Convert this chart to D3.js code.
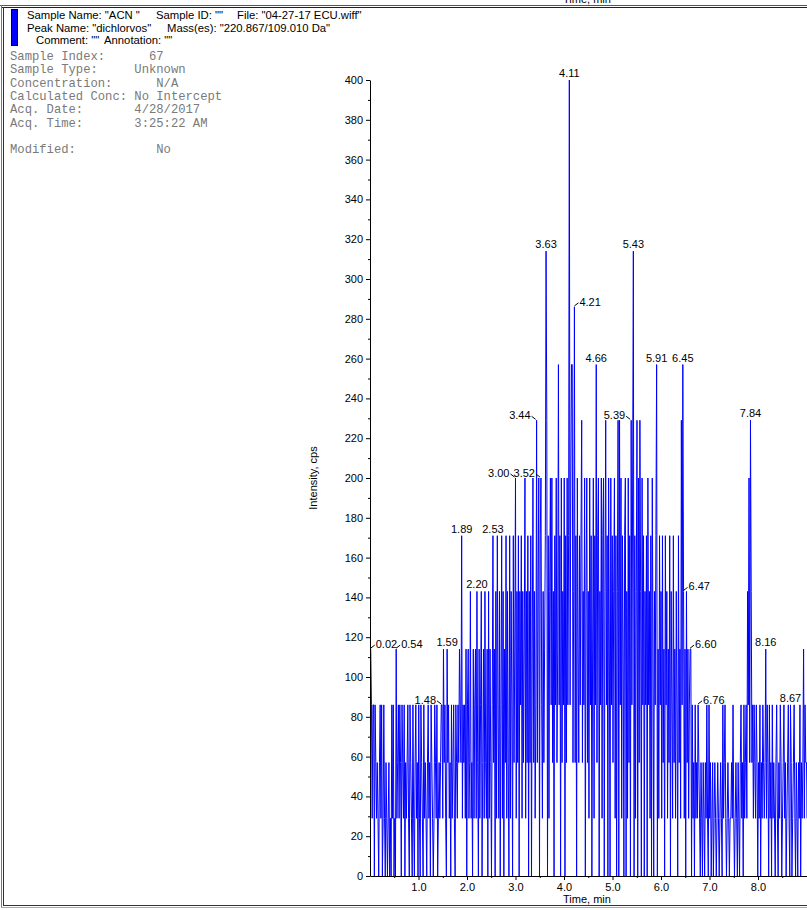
<!DOCTYPE html>
<html><head><meta charset="utf-8">
<script src="https://cdn.jsdelivr.net/npm/d3@7"></script>
<style>
html,body{margin:0;padding:0;background:#fff;overflow:hidden}
svg{display:block}
</style></head><body>
<script>
// ---------------- DATA ----------------
const sampleInterval = 0.015; // min between acquisitions
const intensity = [
114,114,86,29,86,86,0,86,57,29,
57,29,0,57,86,29,86,0,29,86,
29,0,57,29,0,29,57,0,29,0,
86,29,86,0,29,0,114,29,57,86,
29,86,57,0,86,57,29,86,0,57,
29,57,86,29,0,86,57,29,0,86,
29,0,57,86,29,57,0,86,29,0,
86,57,29,0,86,29,57,29,0,57,
86,29,57,0,86,57,29,0,29,86,
57,29,86,0,29,57,29,57,86,86,
29,114,57,86,29,0,114,57,86,29,
57,0,86,29,57,86,29,0,86,57,
29,86,57,114,86,57,171,29,86,57,
86,29,114,0,86,114,29,57,143,29,
57,0,114,29,86,114,29,143,57,0,
114,29,86,143,0,57,114,29,143,57,
29,114,0,143,29,114,57,0,86,171,
57,114,0,143,29,171,86,29,143,0,
86,171,29,143,0,114,57,171,29,143,
57,0,171,29,143,86,0,171,57,114,
200,29,143,57,171,0,143,86,171,29,
143,57,114,200,29,143,57,171,0,143,
57,171,0,114,200,57,143,29,86,229,
57,143,200,0,171,200,86,29,143,57,
114,171,314,229,0,171,29,143,200,86,
200,57,143,0,171,86,200,57,114,257,
86,171,0,200,57,143,86,200,0,171,
57,200,86,171,400,86,200,257,257,57,
143,286,57,171,0,200,114,57,171,86,
171,229,57,143,86,200,0,143,200,57,
143,29,200,86,171,0,114,200,29,171,
86,257,57,171,200,0,143,86,200,29,
171,200,0,143,229,86,171,0,200,114,
0,200,86,171,57,143,200,29,171,0,
143,229,0,229,86,200,29,171,114,0,
171,200,0,143,29,200,57,171,0,229,
86,200,314,0,171,29,143,229,0,200,
57,229,143,0,200,86,171,0,143,86,
171,0,200,86,143,29,171,0,200,114,
0,143,86,171,257,0,114,29,171,86,
143,29,171,57,114,0,171,86,143,29,
114,57,171,0,143,86,29,171,57,114,
29,143,86,0,171,57,114,29,229,86,
257,143,29,114,0,143,57,114,29,86,
114,114,0,86,29,57,0,86,29,57,
29,86,57,29,0,57,29,0,57,29,
0,57,29,86,29,0,86,29,57,0,
29,57,0,29,57,29,0,29,57,29,
0,29,57,29,0,86,29,57,86,29,
0,29,57,29,0,29,29,57,29,86,
29,0,29,57,29,0,57,29,0,57,
86,29,57,0,86,29,57,86,29,143,
86,200,57,229,143,57,86,29,86,57,
29,86,57,0,57,29,86,0,57,29,
86,57,29,57,114,29,86,57,0,86,
29,57,0,86,29,57,29,0,57,86,
29,0,57,29,86,57,0,29,57,86,
29,57,0,29,57,86,29,0,86,57,
0,29,57,86,29,0,57,29,0,57,
29,86,0,57,29,57,114,29,86,57,
57,29,86,0
];

const yTickValues = [0,20,40,60,80,100,120,140,160,180,200,220,240,260,280,300,320,340,360,380,400];
const yMinorTickValues = [10,30,50,70,90,110,130,150,170,190,210,230,250,270,290,310,330,350,370,390];
const xTickValues = [1,2,3,4,5,6,7,8];
const xTickLabels = ["1.0","2.0","3.0","4.0","5.0","6.0","7.0","8.0"];
const xMinorTickValues = [0.5,1.5,2.5,3.5,4.5,5.5,6.5,7.5,8.5];

const peakLabels = ["0.02","0.54","1.48","1.59","1.89","2.20","2.53","3.00","3.44","3.52","3.63",
  "4.11","4.21","4.66","5.39","5.43","5.91","6.45","6.47","6.60","6.76","7.84","8.16","8.67"];

const headerLines = [
  ['Sample Name: "ACN "', 'Sample ID: ""', 'File: "04-27-17 ECU.wiff"'],
  ['Peak Name: "dichlorvos"', 'Mass(es): "220.867/109.010 Da"'],
  ['Comment: ""', 'Annotation: ""']
];
const infoLines = [
  "Sample Index:      67",
  "Sample Type:     Unknown",
  "Concentration:      N/A",
  "Calculated Conc: No Intercept",
  "Acq. Date:       4/28/2017",
  "Acq. Time:       3:25:22 AM",
  "",
  "Modified:           No"
];
const xTitle = "Time, min";
const yTitle = "Intensity, cps";

// ---------------- LAYOUT ----------------
const W = 807, H = 910;
const sans = "'Liberation Sans', Arial, Helvetica, sans-serif";
const mono = "'Liberation Mono', 'Courier New', monospace";
const x0 = 370, pxPerMin = 48.5;
const x = d3.scaleLinear().domain([0, 9.2]).range([x0, x0 + pxPerMin * 9.2]);
const y = d3.scaleLinear().domain([0, 400]).range([876, 80]);

const svg = d3.select("body").append("svg").attr("width", W).attr("height", H);

// frame
const frame = svg.append("g").attr("fill", "none");
frame.append("line").attr("x1",0).attr("x2",W).attr("y1",5.5).attr("y2",5.5).attr("stroke","#555");
frame.append("line").attr("x1",2).attr("x2",W).attr("y1",7.5).attr("y2",7.5).attr("stroke","#222");
frame.append("line").attr("x1",1.5).attr("x2",1.5).attr("y1",5).attr("y2",908).attr("stroke","#777");
frame.append("line").attr("x1",3.5).attr("x2",3.5).attr("y1",7).attr("y2",906).attr("stroke","#333");
frame.append("line").attr("x1",3).attr("x2",W).attr("y1",905.5).attr("y2",905.5).attr("stroke","#333");
frame.append("line").attr("x1",1).attr("x2",W).attr("y1",907.5).attr("y2",907.5).attr("stroke","#aaa");
// clipped title of the panel above (as in the reference)
svg.append("text").attr("x", 587).attr("y", 3).attr("text-anchor","middle")
  .attr("font-family", sans).attr("font-size", 11).text(xTitle);

// header
svg.append("rect").attr("x",11.5).attr("y",9.5).attr("width",6).attr("height",36)
  .attr("fill","#0000ff").attr("stroke","#000").attr("stroke-width",1);
const headerX = [[27, 156, 237],[27, 167],[36, 104]];
const headerY = [19, 31.5, 44];
headerLines.forEach((line, li) => {
  line.forEach((s, k) => {
    svg.append("text").attr("x", headerX[li][k]).attr("y", headerY[li])
      .attr("font-family", sans).attr("font-size", 11.3).attr("fill","#000").text(s);
  });
});
infoLines.forEach((s, i) => {
  svg.append("text").attr("x", 10).attr("y", 60 + i * 13.3)
    .attr("font-family", mono).attr("font-size", 12.2).attr("fill", "#7a7a7a")
    .style("white-space","pre").attr("xml:space","preserve").text(s);
});

// data line
const pts = intensity.map((v, i) => ({t: i * sampleInterval, v}));
svg.append("defs").append("clipPath").attr("id","plotclip")
  .append("rect").attr("x", x0).attr("y", 0).attr("width", W - x0).attr("height", 877);
svg.append("path").datum(pts)
  .attr("clip-path","url(#plotclip)")
  .attr("fill","none").attr("stroke","#0000ff").attr("stroke-width",1)
  .attr("d", d3.line().x(d => x(d.t)).y(d => y(d.v)));

// axes
svg.append("g").attr("transform", `translate(${x0},0)`)
  .call(d3.axisLeft(y).tickValues(yTickValues).tickSize(4).tickSizeOuter(0).tickPadding(3).tickFormat(d3.format("d")));
svg.append("g").attr("transform", `translate(${x0},0)`)
  .call(d3.axisLeft(y).tickValues(yMinorTickValues).tickSize(2).tickSizeOuter(0).tickFormat(""))
  .select(".domain").remove();
svg.append("g").attr("transform", `translate(0,876)`)
  .call(d3.axisBottom(x).tickValues(xTickValues).tickSize(4).tickSizeOuter(0).tickPadding(3)
    .tickFormat((d, i) => xTickLabels[i]));
svg.append("g").attr("transform", `translate(0,876)`)
  .call(d3.axisBottom(x).tickValues(xMinorTickValues).tickSize(2).tickSizeOuter(0).tickFormat(""))
  .select(".domain").remove();
svg.selectAll(".tick text").attr("font-family", sans).attr("font-size", 11).attr("fill","#000");
svg.selectAll(".domain, .tick line").attr("stroke","#000");

svg.append("text").attr("x", 587).attr("y", 903).attr("text-anchor","middle")
  .attr("font-family", sans).attr("font-size", 11).text(xTitle);
svg.append("text").attr("transform","translate(317,478) rotate(-90)").attr("text-anchor","middle")
  .attr("font-family", sans).attr("font-size", 11).text(yTitle);

// peak labels
const placement = {"0.02":"right","0.54":"right","1.48":"left","3.44":"left","3.52":"left","4.21":"right",
  "5.39":"left","6.47":"right","6.60":"right","6.76":"right","3.00":"left"};
const lab = svg.append("g").attr("font-family", sans).attr("font-size", 11).attr("fill","#000");
peakLabels.forEach(s => {
  const i = Math.round(+s / sampleInterval);
  const px = x(i * sampleInterval), py = y(intensity[i]);
  const mode = placement[s] || "center";
  if (mode === "center") {
    lab.append("text").attr("x", px).attr("y", py - 3).attr("text-anchor","middle").text(s);
  } else if (mode === "right") {
    lab.append("path").attr("d", `M${px},${py-1}L${px+4},${py-4}`).attr("stroke","#000").attr("fill","none");
    lab.append("text").attr("x", px + 5).attr("y", py - 1).attr("text-anchor","start").text(s);
  } else {
    lab.append("path").attr("d", `M${px-1},${py-1}L${px-5},${py-4}`).attr("stroke","#000").attr("fill","none");
    lab.append("text").attr("x", px - 6).attr("y", py - 1).attr("text-anchor","end").text(s);
  }
});
</script>
</body></html>
